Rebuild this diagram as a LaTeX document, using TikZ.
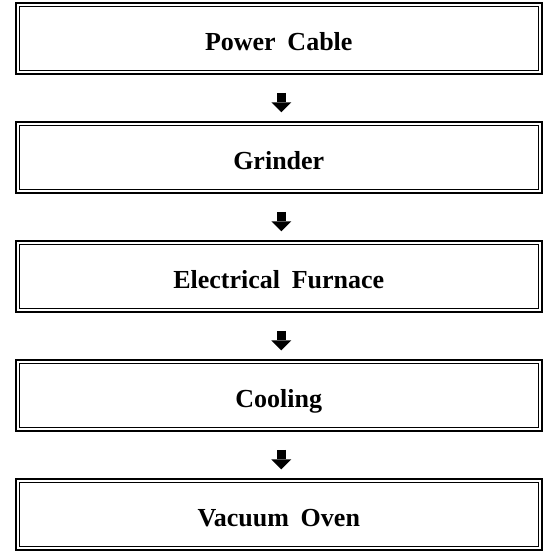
\documentclass[tikz,border=0pt]{standalone}
\usepackage{fontspec}
\setmainfont{Liberation Serif}[WordSpace=1.8]
\usetikzlibrary{arrows.meta}
\begin{document}
\begin{tikzpicture}[x=1pt,y=1pt,
  procbox/.style={draw, line width=1.5pt, minimum width=526pt, minimum height=71pt,
    inner sep=0pt, font=\fontsize{26}{30}\selectfont\bfseries,
    text height=24pt, text depth=0pt},
  innerframe/.style={line width=0.8pt},
  flowarrow/.style={line width=9pt, -{Triangle[width=20pt,length=10pt,line width=0pt]},
    shorten <=18pt, shorten >=9pt}]
\useasboundingbox (0,0) rectangle (545,-554);
\node[procbox] (b1) at (278.75,-38.5) {Power Cable};
\node[procbox] (b2) at (278.75,-157.5) {Grinder};
\node[procbox] (b3) at (278.75,-276.5) {Electrical Furnace};
\node[procbox] (b4) at (278.75,-395.5) {Cooling};
\node[procbox] (b5) at (278.75,-514.5) {Vacuum Oven};
\foreach \n in {b1,b2,b3,b4,b5}
  \draw[innerframe] ([shift={(4.5,-4.5)}]\n.north west) rectangle ([shift={(-4.5,4.5)}]\n.south east);
\draw[flowarrow] ([xshift=2.5pt]b1.south) -- ([xshift=2.5pt]b2.north);
\draw[flowarrow] ([xshift=2.5pt]b2.south) -- ([xshift=2.5pt]b3.north);
\draw[flowarrow] ([xshift=2.5pt]b3.south) -- ([xshift=2.5pt]b4.north);
\draw[flowarrow] ([xshift=2.5pt]b4.south) -- ([xshift=2.5pt]b5.north);
\end{tikzpicture}
\end{document}
